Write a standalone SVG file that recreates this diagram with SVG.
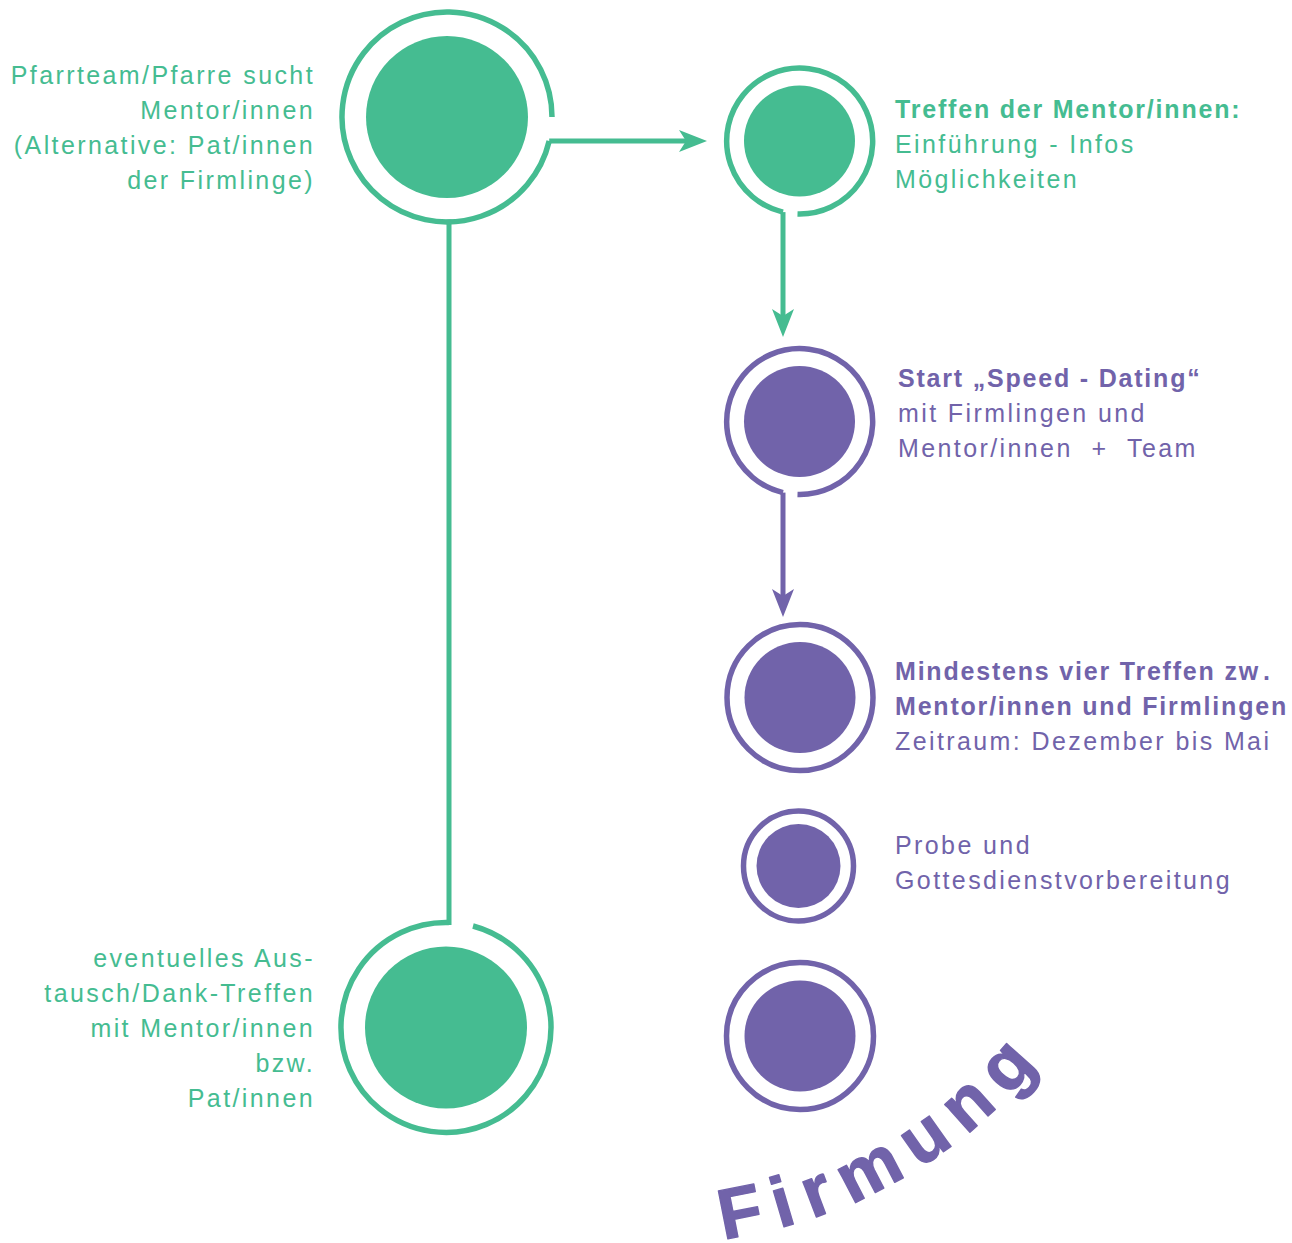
<svg xmlns="http://www.w3.org/2000/svg" width="1292" height="1243" viewBox="0 0 1292 1243">
<style>
.g{fill:#45BC91}
.p{fill:#7163AA}
.rg{fill:none;stroke:#45BC91;stroke-width:5.5}
.rp{fill:none;stroke:#7163AA;stroke-width:5.5}
.cg{fill:none;stroke:#45BC91;stroke-width:5}
.cp{fill:none;stroke:#7163AA;stroke-width:5}
text{font-family:"Liberation Sans",Arial,sans-serif;font-size:25px;letter-spacing:2.4px}
.b{font-weight:bold;letter-spacing:1.8px}
.end{text-anchor:end}
.tg{fill:#45BC91}
.tp{fill:#7163AA}
.big{font-size:71px;letter-spacing:14px;stroke:#7163AA;stroke-width:1.4;stroke-linejoin:round}
</style>
<defs>
<marker id="ag" markerUnits="userSpaceOnUse" markerWidth="30" markerHeight="30" refX="0" refY="0" orient="auto" style="overflow:visible"><path d="M21 0 L-7 -11 L0 0 L-7 11 Z" fill="#45BC91"/></marker>
<marker id="ap" markerUnits="userSpaceOnUse" markerWidth="30" markerHeight="30" refX="0" refY="0" orient="auto" style="overflow:visible"><path d="M21 0 L-7 -11 L0 0 L-7 11 Z" fill="#7163AA"/></marker>
<path id="arc" d="M723 1239 A500 500 0 0 0 1095 980"/>
</defs>
<g id="connectors">
<path class="cg" d="M549.2 141 H686" marker-end="url(#ag)"/>
<path class="cg" d="M449 222 V922.5" stroke-linecap="square"/>
<path class="cg" d="M783 212.1 V316" marker-end="url(#ag)"/>
<path class="cp" d="M783 492.6 V596" marker-end="url(#ap)"/>
</g>
<g id="n1">
<path class="rg" d="M549.2 141 A105 105 0 1 1 552 117"/>
<circle class="g" cx="447" cy="117" r="81"/>
<text class="tg end" x="315" y="84">Pfarrteam/Pfarre sucht</text>
<text class="tg end" x="315" y="119">Mentor/innen</text>
<text class="tg end" x="315" y="154">(Alternative: Pat/innen</text>
<text class="tg end" x="315" y="189">der Firmlinge)</text>
</g>
<g id="n2">
<path class="rg" d="M797.5 214 A73 73 0 1 0 783 212.1"/>
<circle class="g" cx="799.5" cy="141" r="55.5"/>
<text class="tg b" x="895" y="118">Treffen der Mentor/innen:</text>
<text class="tg" x="895" y="153">Einführung - Infos</text>
<text class="tg" x="895" y="188">Möglichkeiten</text>
</g>
<g id="n3">
<path class="rp" d="M797.5 494.5 A73 73 0 1 0 783 492.6"/>
<circle class="p" cx="799.5" cy="421.5" r="55.5"/>
<text class="tp b" x="898" y="387">Start „Speed - Dating“</text>
<text class="tp" x="898" y="422">mit Firmlingen und</text>
<text class="tp" x="898" y="457">Mentor/innen &#160;+ &#160;Team</text>
</g>
<g id="n4">
<circle class="rp" cx="800" cy="697.5" r="73"/>
<circle class="p" cx="800" cy="697.5" r="55.5"/>
<text class="tp b" x="895" y="680">Mindestens vier Treffen zw<tspan dx="4">.</tspan></text>
<text class="tp b" x="895" y="715">Mentor/innen und Firmlingen</text>
<text class="tp" x="895" y="750">Zeitraum: Dezember bis Mai</text>
</g>
<g id="n5">
<circle class="rp" cx="798.5" cy="866" r="55"/>
<circle class="p" cx="798.5" cy="866" r="42"/>
<text class="tp" x="895" y="854">Probe und</text>
<text class="tp" x="895" y="889">Gottesdienstvorbereitung</text>
</g>
<g id="n6">
<circle class="rp" cx="800" cy="1036" r="73.5"/>
<circle class="p" cx="800" cy="1036" r="55.5"/>
<text class="tp b big"><textPath href="#arc">Firmung</textPath></text>
</g>
<g id="n7">
<path class="rg" d="M473 926 A105 105 0 1 1 448.9 922.5"/>
<circle class="g" cx="446" cy="1027.5" r="81"/>
<text class="tg end" x="315" y="967">eventuelles Aus-</text>
<text class="tg end" x="315" y="1002">tausch/Dank-Treffen</text>
<text class="tg end" x="315" y="1037">mit Mentor/innen</text>
<text class="tg end" x="315" y="1072">bzw.</text>
<text class="tg end" x="315" y="1107">Pat/innen</text>
</g>
</svg>
